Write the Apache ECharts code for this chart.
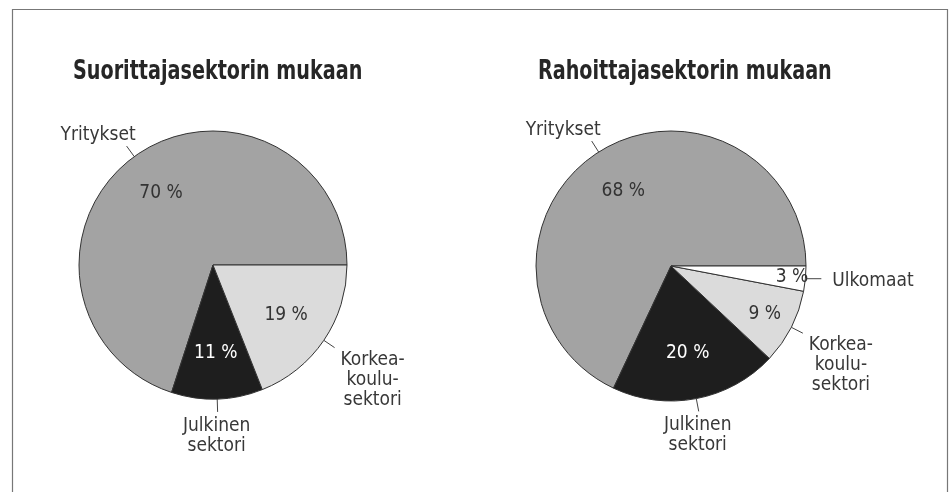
<!DOCTYPE html>
<html>
<head>
<meta charset="utf-8">
<script src="https://cdn.jsdelivr.net/npm/echarts@6/dist/echarts.min.js"></script>
<style>
html, body { margin: 0; padding: 0; background: #fff; }
#main { width: 952px; height: 492px; }
</style>
</head>
<body>
<div id="main"></div>
<script>
// data
var titles = ['Suorittajasektorin mukaan', 'Rahoittajasektorin mukaan'];
var catsLeft = ['Yritykset', 'Julkinen\nsektori', 'Korkea-\nkoulu-\nsektori'];
var valsLeft = [70, 11, 19];
var catsRight = ['Yritykset', 'Julkinen\nsektori', 'Korkea-\nkoulu-\nsektori', 'Ulkomaat'];
var valsRight = [68, 20, 9, 3];

// styles
var sliceColors = ['#a3a3a3', '#1e1e1e', '#dbdbdb', '#ffffff'];
var innerTextColors = ['#333', '#fff', '#333', '#333'];
var fontFam = '"Liberation Sans Narrow", "DejaVu Sans Condensed", sans-serif';
var textColor = '#383838';

var pies = [
    { cx: 213, cy: 265, r: 134, cats: catsLeft, vals: valsLeft, titleX: 73 },
    { cx: 671, cy: 266, r: 135, cats: catsRight, vals: valsRight, titleX: 538 }
];

function midAngles(vals) {
    var tot = 0, acc = 0;
    vals.forEach(function (v) { tot += v; });
    return vals.map(function (v) {
        var a = (acc + v / 2) / tot * 360;
        acc += v;
        return a;
    });
}

// narrow slices get their % label pushed outward
function innerFrac(v) {
    return v >= 10 ? 0.66 : (v >= 5 ? 0.78 : 0.9);
}

function outerLayout(p) {
    var pts = p.labelLinePoints;
    if (!pts) return {};
    var s = pts[0], e = pts[pts.length - 1];
    var dx = e[0] - s[0], dy = e[1] - s[1];
    var w = p.labelRect.width;
    if (dx < 0 && dy < 0) {
        return { x: e[0] + 9, y: e[1] - 11, align: 'right', verticalAlign: 'middle', labelLinePoints: pts };
    }
    if (Math.abs(dx) < Math.abs(dy) * 0.5) {
        return { x: e[0] - 1, y: e[1] + 4, align: 'center', verticalAlign: 'top', labelLinePoints: pts };
    }
    if (dy > Math.abs(dx) * 0.25) {
        return { x: e[0] + 6 + w / 2, y: e[1] + 2, align: 'center', verticalAlign: 'top', labelLinePoints: pts };
    }
    var flat = [s, [e[0] + 3, s[1]]];
    return { x: e[0] + 14, y: s[1] + 2, align: 'left', verticalAlign: 'middle', labelLinePoints: flat };
}

var series = [];
var titleGraphics = [];
pies.forEach(function (pie, k) {
    var mids = midAngles(pie.vals);
    // condensed bold heading
    titleGraphics.push({
        type: 'text',
        x: pie.titleX,
        y: 59,
        scaleX: 0.82,
        silent: true,
        style: {
            text: titles[k],
            font: 'bold 26px ' + fontFam,
            fill: '#262626',
            textVerticalAlign: 'top'
        }
    });
    // slices + outside labels
    series.push({
        type: 'pie',
        center: [pie.cx, pie.cy],
        radius: [0, pie.r],
        startAngle: 0,
        clockwise: false,
        avoidLabelOverlap: false,
        silent: true,
        animation: false,
        itemStyle: { borderColor: '#333', borderWidth: 1 },
        label: {
            position: 'outside',
            formatter: '{b}',
            fontFamily: fontFam,
            fontSize: 19,
            lineHeight: 20,
            color: textColor
        },
        labelLine: {
            show: true,
            length: 13,
            length2: 0,
            smooth: false,
            lineStyle: { color: '#444', width: 1 }
        },
        labelLayout: outerLayout,
        data: pie.cats.map(function (c, i) {
            return { name: c, value: pie.vals[i], itemStyle: { color: sliceColors[i] } };
        })
    });
    // percentage labels inside
    series.push({
        type: 'pie',
        center: [pie.cx, pie.cy],
        radius: [0, pie.r],
        startAngle: 0,
        clockwise: false,
        avoidLabelOverlap: false,
        silent: true,
        animation: false,
        itemStyle: { color: 'rgba(0,0,0,0)', borderWidth: 0 },
        label: {
            position: 'inside',
            formatter: '{c} %',
            fontFamily: fontFam,
            fontSize: 19
        },
        labelLine: { show: false },
        labelLayout: function (p) {
            var a = mids[p.dataIndex] * Math.PI / 180;
            var f = innerFrac(pie.vals[p.dataIndex]);
            return {
                x: pie.cx + f * pie.r * Math.cos(a),
                y: pie.cy - f * pie.r * Math.sin(a),
                align: 'center',
                verticalAlign: 'middle'
            };
        },
        data: pie.cats.map(function (c, i) {
            return { name: c, value: pie.vals[i], label: { color: innerTextColors[i] } };
        })
    });
});

var myChart = echarts.init(document.getElementById('main'));
var option = {
    backgroundColor: '#fff',
    animation: false,
    graphic: [{
        type: 'rect',
        shape: { x: 12.5, y: 9.5, width: 935, height: 500 },
        style: { fill: 'none', stroke: '#777', lineWidth: 1.2 },
        silent: true
    }].concat(titleGraphics),
    series: series
};
myChart.setOption(option);
</script>
</body>
</html>
